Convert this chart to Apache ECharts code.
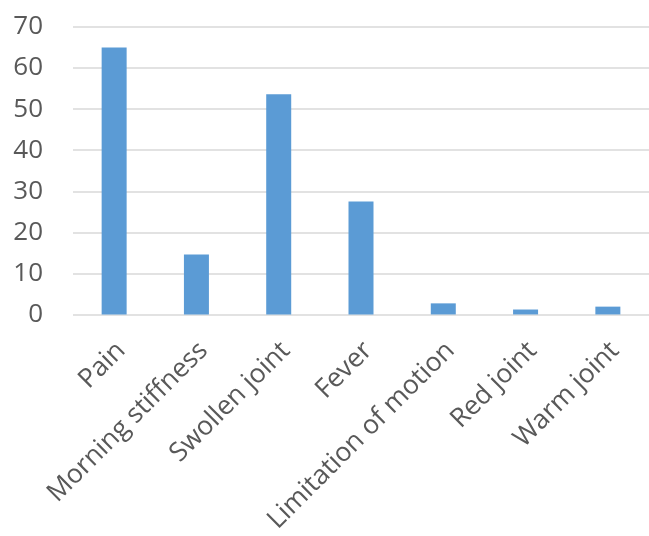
<!DOCTYPE html>
<html>
<head>
<meta charset="utf-8">
<script src="https://cdn.jsdelivr.net/npm/echarts@6/dist/echarts.min.js"></script>
<style>
  html, body { margin: 0; padding: 0; background: #fff; }
  #chart { width: 649px; height: 536px; }
</style>
</head>
<body>
<div id="chart"></div>
<script>
// Symptoms reported and their frequency
const symptoms = ['Pain', 'Morning stiffness', 'Swollen joint', 'Fever', 'Limitation of motion', 'Red joint', 'Warm joint'];
const counts = [65, 14.6, 53.6, 27.5, 2.7, 1.2, 1.9];
const yTicks = [0, 10, 20, 30, 40, 50, 60, 70];

const chart = echarts.init(document.getElementById('chart'));
const font = '"Open Sans", "Liberation Sans", sans-serif';

chart.setOption({
  animation: false,
  grid: { left: 73, top: 27, width: 584.5, bottom: 221, containLabel: false },
  xAxis: {
    type: 'category',
    data: symptoms,
    axisLine: { show: false },
    axisTick: { show: false },
    axisLabel: {
      rotate: 45,
      interval: 0,
      margin: 39,
      padding: [0, -10, 0, 0],
      color: '#595959',
      fontFamily: font,
      fontSize: 26.5
    }
  },
  yAxis: {
    type: 'value',
    min: yTicks[0],
    max: yTicks[yTicks.length - 1],
    interval: 10,
    axisLine: { show: false },
    axisTick: { show: false },
    splitLine: { lineStyle: { color: '#d9d9d9', width: 1.5 } },
    axisLabel: {
      margin: 30,
      color: '#595959',
      fontFamily: font,
      fontSize: 26
    }
  },
  series: [{
    type: 'bar',
    data: counts,
    barWidth: 25,
    itemStyle: { color: '#5b9bd5' }
  }]
});
</script>
</body>
</html>
